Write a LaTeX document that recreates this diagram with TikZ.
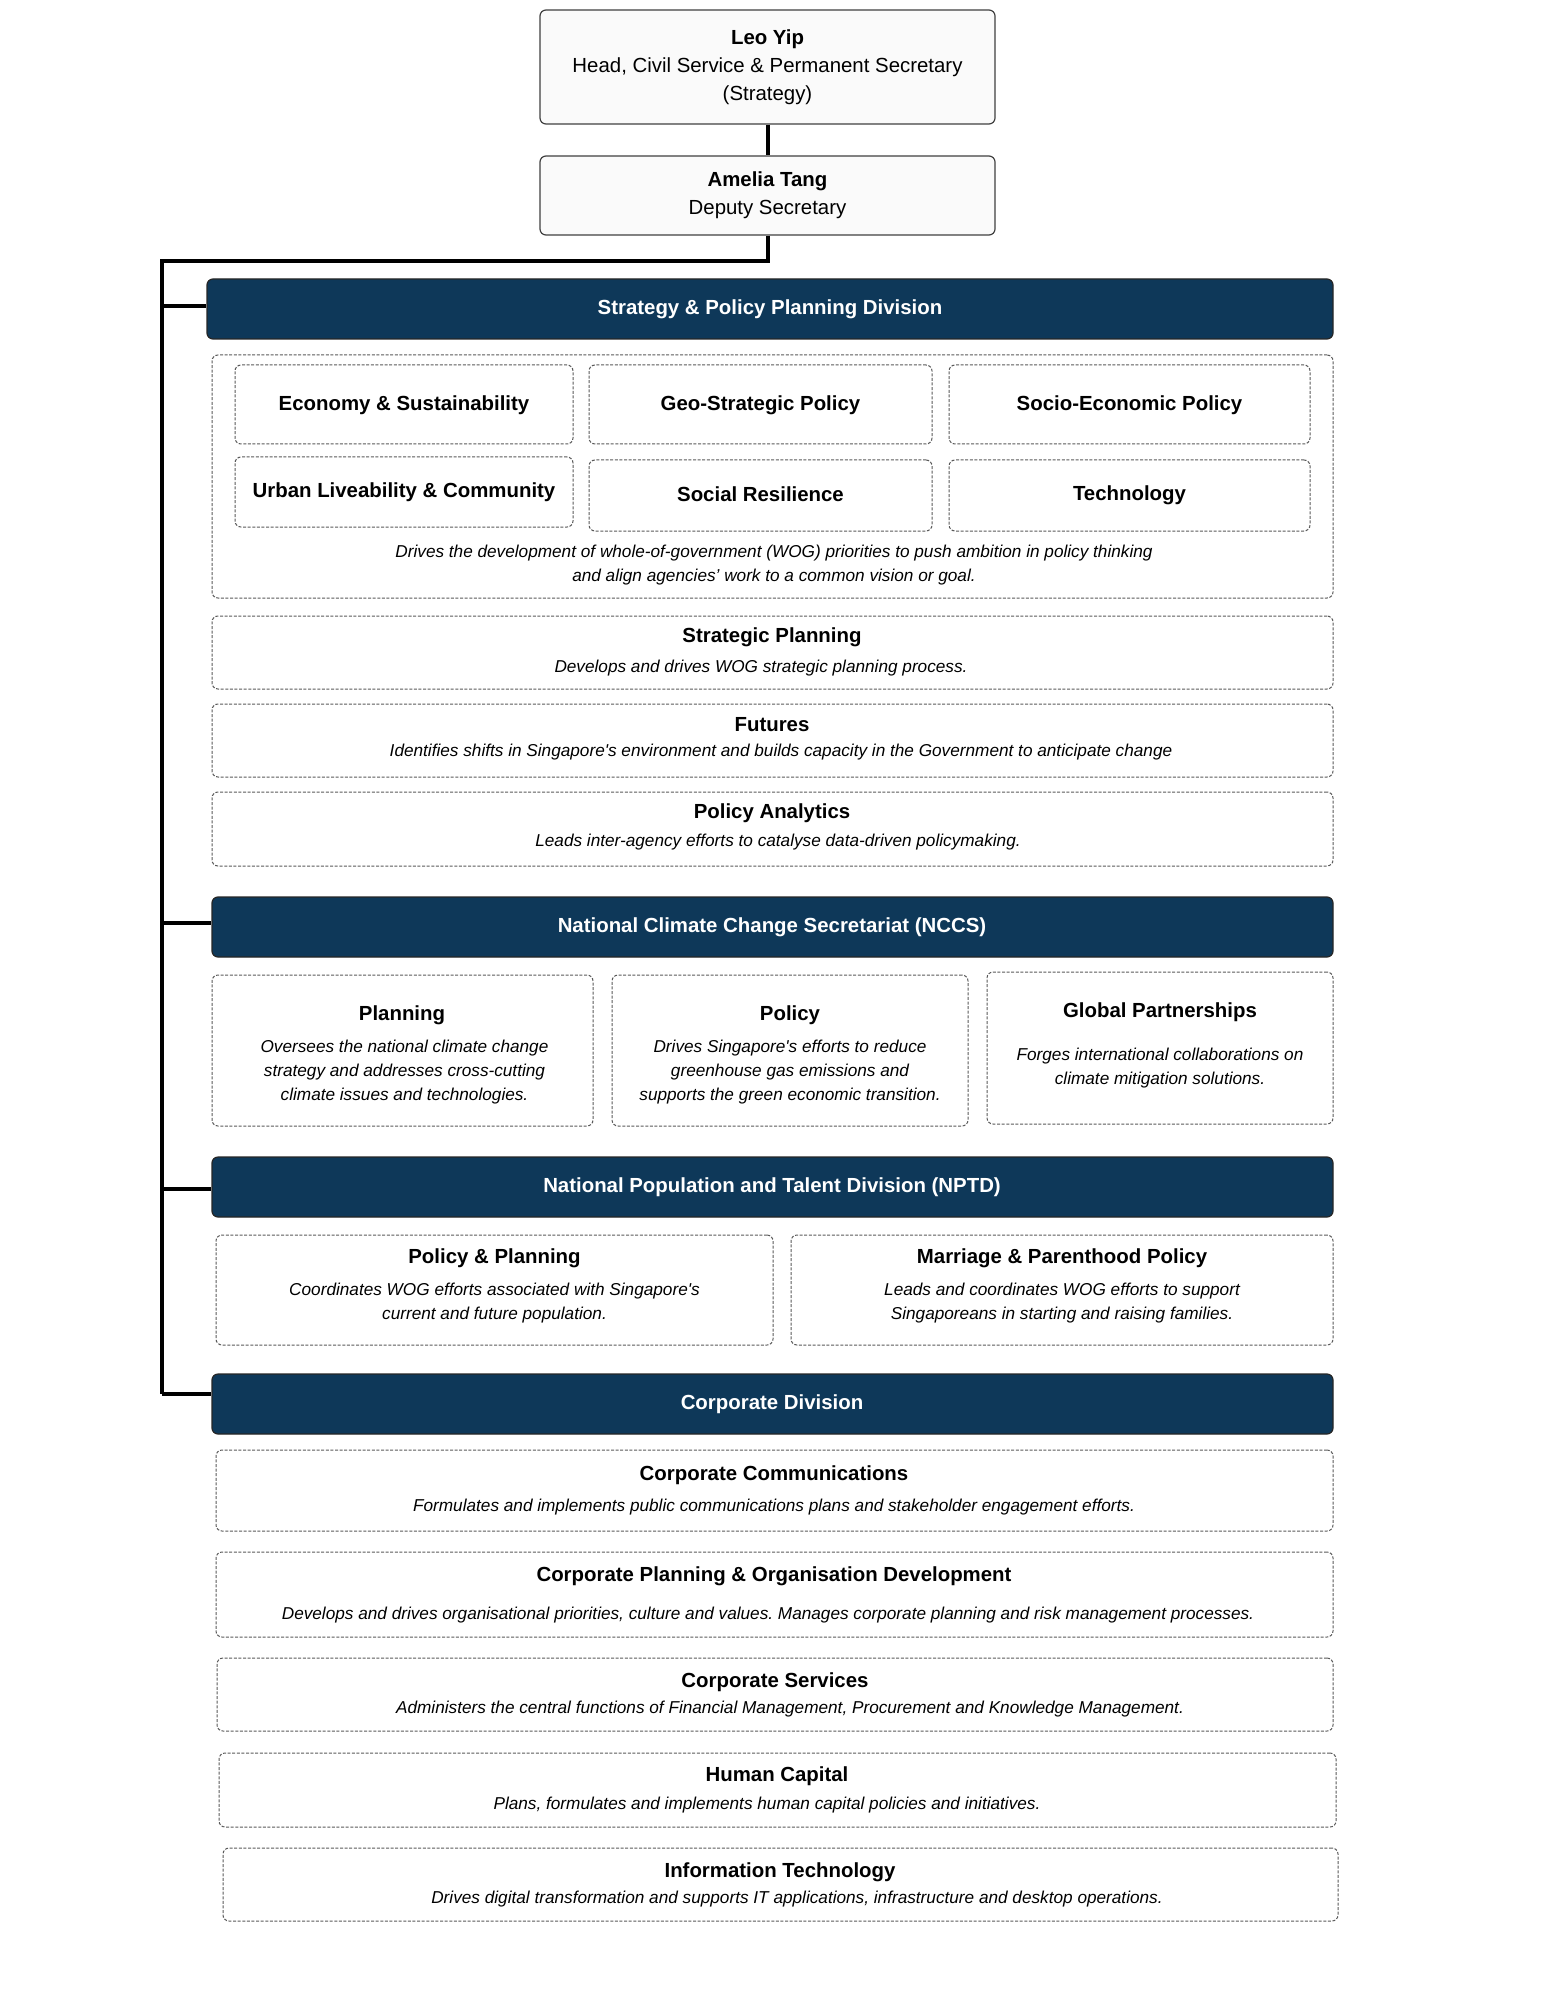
\documentclass[tikz,border=0pt]{standalone}
\usepackage{fontspec}
\setmainfont{Liberation Sans}
\usetikzlibrary{fit}
\frenchspacing
\definecolor{navy}{RGB}{14,56,89}
\definecolor{boxline}{RGB}{90,90,90}
\tikzset{
  topbox/.style={draw=black!75, fill=black!2, rounded corners=3pt, line width=0.6pt},
  hdrbox/.style={draw=black!85, fill=navy, rounded corners=3pt, line width=0.6pt},
  dbox/.style={draw=boxline, fill=white, dash pattern=on 1.5pt off 0.8pt, line width=0.5pt, rounded corners=3pt},
  ttl/.style={font=\bfseries\fontsize{10.2}{12}\selectfont, inner sep=0pt, yshift=-1.3pt},
  hdr/.style={font=\bfseries\fontsize{10.2}{12}\selectfont, text=white, inner sep=0pt, yshift=-1.3pt},
  dsc/.style={font=\itshape\fontsize{8.6}{11.8}\selectfont, align=center, inner sep=0pt, yshift=-1pt},
  toptxt/.style={font=\fontsize{10.2}{14}\selectfont, align=center, inner sep=0pt, yshift=-1.3pt},
  conn/.style={line width=2pt, black}
}
\newcommand\mkbox[6]{\node[#1, fit={(#3,#4) (#5,#6)}, inner sep=0pt] (#2) {};}
\begin{document}
\begin{tikzpicture}[x=0.5pt, y=-0.5pt]
\useasboundingbox (0,0) rectangle (1555,2000);
% top
\mkbox{topbox}{leo}{540}{10}{995}{124}
\node[toptxt] (leo-t) at (767.5,65) {\textbf{Leo Yip}\\Head, Civil Service \& Permanent Secretary\\(Strategy)};
\mkbox{topbox}{amelia}{540}{156}{995}{235}
\node[toptxt] (amelia-t) at (767.5,193) {\textbf{Amelia Tang}\\Deputy Secretary};
% connectors
\coordinate (bustop) at (162,261);
\coordinate (b1) at (162,306);
\coordinate (b2) at (162,923);
\coordinate (b3) at (162,1189);
\coordinate (b4) at (162,1394);
\draw[conn] (leo.south) -- (amelia.north);
\draw[conn] (amelia.south) |- (bustop) -- (b4);
% Strategy & Policy Planning
\mkbox{hdrbox}{spp}{207}{279}{1333}{339}
\node[hdr] (spp-t) at (770,307) {Strategy \& Policy Planning Division};
\draw[conn] (b1) -- (b1 -| spp.west);
\mkbox{dbox}{sppbox}{212}{355}{1333}{598}
\mkbox{dbox}{econ}{235}{365}{573}{444}
\mkbox{dbox}{geo}{589}{365}{932}{444}
\mkbox{dbox}{socio}{949}{365}{1310}{444}
\mkbox{dbox}{urban}{235}{457}{573}{527}
\mkbox{dbox}{social}{589}{460}{932}{531}
\mkbox{dbox}{tech}{949}{460}{1310}{531}
\node[ttl] (econ-t) at (404,403) {Economy \& Sustainability};
\node[ttl] (geo-t) at (760.5,403) {Geo-Strategic Policy};
\node[ttl] (socio-t) at (1129.5,403) {Socio-Economic Policy};
\node[ttl] (urban-t) at (404,490) {Urban Liveability \& Community};
\node[ttl] (social-t) at (760.5,492) {Social Resilience};
\node[ttl] (tech-t) at (1129.5,493) {Technology};
\node[dsc] (spp-d) at (774,563) {Drives the development of whole-of-government (WOG) priorities to push ambition in policy thinking\\and align agencies’ work to a common vision or goal.};
\mkbox{dbox}{strat}{212}{616}{1333}{689}
\node[ttl] (strat-t) at (772,635) {Strategic Planning};
\node[dsc] (strat-d) at (761,666) {Develops and drives WOG strategic planning process.};
\mkbox{dbox}{fut}{212}{704}{1333}{777}
\node[ttl] (fut-t) at (772,722) {Futures};
\node[dsc] (fut-d) at (781,750) {Identifies shifts in Singapore\textquotesingle s environment and builds capacity in the Government to anticipate change};
\mkbox{dbox}{pa}{212}{792}{1333}{866}
\node[ttl] (pa-t) at (772,811) {Policy Analytics};
\node[dsc] (pa-d) at (778,840) {Leads inter-agency efforts to catalyse data-driven policymaking.};
% NCCS
\mkbox{hdrbox}{nccs}{212}{897}{1333}{957}
\node[hdr] (nccs-t) at (772,925) {National Climate Change Secretariat (NCCS)};
\draw[conn] (b2) -- (b2 -| nccs.west);
\mkbox{dbox}{plan}{212}{975}{593}{1126}
\node[ttl] (plan-t) at (402,1013) {Planning};
\node[dsc] (plan-d) at (404.5,1070) {Oversees the national climate change\\strategy and addresses cross-cutting\\climate issues and technologies.};
\mkbox{dbox}{pol}{612}{975}{968}{1126}
\node[ttl] (pol-t) at (790,1013) {Policy};
\node[dsc] (pol-d) at (790,1070) {Drives Singapore\textquotesingle s efforts to reduce\\greenhouse gas emissions and\\supports the green economic transition.};
\mkbox{dbox}{glob}{987}{972}{1333}{1124}
\node[ttl] (glob-t) at (1160,1010) {Global Partnerships};
\node[dsc] (glob-d) at (1160,1066) {Forges international collaborations on\\climate mitigation solutions.};
% NPTD
\mkbox{hdrbox}{nptd}{212}{1157}{1333}{1217}
\node[hdr] (nptd-t) at (772,1185) {National Population and Talent Division (NPTD)};
\draw[conn] (b3) -- (b3 -| nptd.west);
\mkbox{dbox}{pp}{216}{1235}{773}{1345}
\node[ttl] (pp-t) at (494.5,1256) {Policy \& Planning};
\node[dsc] (pp-d) at (494.5,1301) {Coordinates WOG efforts associated with Singapore\textquotesingle s\\current and future population.};
\mkbox{dbox}{mp}{791}{1235}{1333}{1345}
\node[ttl] (mp-t) at (1062,1256) {Marriage \& Parenthood Policy};
\node[dsc] (mp-d) at (1062,1301) {Leads and coordinates WOG efforts to support\\Singaporeans in starting and raising families.};
% Corporate
\mkbox{hdrbox}{corp}{212}{1374}{1333}{1434}
\node[hdr] (corp-t) at (772,1402) {Corporate Division};
\draw[conn] (b4) -- (b4 -| corp.west);
\mkbox{dbox}{cc}{216}{1450}{1333}{1531}
\node[ttl] (cc-t) at (774,1473) {Corporate Communications};
\node[dsc] (cc-d) at (774,1505) {Formulates and implements public communications plans and stakeholder engagement efforts.};
\mkbox{dbox}{cpod}{216}{1552}{1333}{1637}
\node[ttl] (cpod-t) at (774,1574) {Corporate Planning \& Organisation Development};
\node[dsc] (cpod-d) at (768,1613) {Develops and drives organisational priorities, culture and values. Manages corporate planning and risk management processes.};
\mkbox{dbox}{cs}{217}{1658}{1333}{1731}
\node[ttl] (cs-t) at (775,1680) {Corporate Services};
\node[dsc] (cs-d) at (790,1707) {Administers the central functions of Financial Management, Procurement and Knowledge Management.};
\mkbox{dbox}{hc}{219}{1753}{1336}{1827}
\node[ttl] (hc-t) at (777,1774) {Human Capital};
\node[dsc] (hc-d) at (767,1803) {Plans, formulates and implements human capital policies and initiatives.};
\mkbox{dbox}{it}{223}{1848}{1338}{1921}
\node[ttl] (it-t) at (780,1870) {Information Technology};
\node[dsc] (it-d) at (797,1897) {Drives digital transformation and supports IT applications, infrastructure and desktop operations.};
\end{tikzpicture}
\end{document}
